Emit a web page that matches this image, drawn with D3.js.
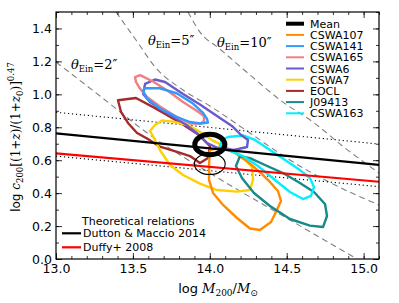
<!DOCTYPE html>
<html><head><meta charset="utf-8">
<script src="https://cdn.jsdelivr.net/npm/d3@7"></script>
<style>body{margin:0;background:#fff}svg{display:block}</style>
</head><body>
<svg id="c" width="399" height="303"></svg>
<script>
// ---------------- data ----------------
const xTicks = [13.0, 13.5, 14.0, 14.5, 15.0];
const yTicks = [0.0, 0.2, 0.4, 0.6, 0.8, 1.0, 1.2, 1.4];
const legendNames = ["Mean","CSWA107","CSWA141","CSWA165","CSWA6","CSWA7","EOCL","J09413","CSWA163"];
const legendColors = ["#000000","#ff8c00","#3399ff","#f08080","#6a5acd","#ffd000","#a52a2a","#168a8a","#00f0ff"];
// theoretical relations: [logM, value] endpoints
const duttonMaccio = [[13.0,0.763],[15.1,0.571]];
const duffy2008 = [[13.0,0.642],[15.1,0.469]];
const dottedUpper = [[13.0,0.891],[15.1,0.698]];
const dottedLower = [[13.0,0.625],[15.1,0.439]];
// Einstein-radius curves
const ein2 = [[13.0,1.196],[13.286,0.990],[13.611,0.753],[14.021,0.510],[14.521,0.237],[14.957,0.0]];
const ein5 = [[13.390,1.5],[13.520,1.330],[13.650,1.160],[13.826,1.026],[14.001,0.929],[14.261,0.765],[14.521,0.601],[14.814,0.449],[15.1,0.328]];
const ein10 = [[13.858,1.5],[13.936,1.378],[14.066,1.275],[14.216,1.154],[14.476,0.953],[14.671,0.832],[14.879,0.674],[15.1,0.522]];
const einLabels = ["2", "5", "10"];
// contours (logM, log c)
const cswa107 = [[14.001,0.662],[13.995,0.571],[13.995,0.480],[14.021,0.401],[14.086,0.328],[14.177,0.249],[14.261,0.185],[14.326,0.176],[14.398,0.225],[14.430,0.285],[14.463,0.352],[14.443,0.413],[14.391,0.468],[14.326,0.528],[14.248,0.589],[14.164,0.644],[14.079,0.680]];
const cswa141 = [[13.566,1.020],[13.579,1.037],[13.676,1.037],[13.787,1.005],[13.891,0.944],[13.956,0.887],[13.982,0.850],[13.988,0.829],[13.936,0.823],[13.871,0.832],[13.787,0.862],[13.676,0.914],[13.592,0.975]];
const cswa165 = [[13.514,1.105],[13.546,1.117],[13.631,1.078],[13.728,1.020],[13.826,0.953],[13.917,0.899],[13.962,0.868],[13.962,0.838],[13.943,0.823],[13.871,0.823],[13.780,0.865],[13.676,0.926],[13.592,0.984],[13.546,1.035],[13.520,1.075]];
const cswa6 = [[13.579,1.063],[13.644,1.090],[13.709,1.075],[13.826,1.002],[13.936,0.938],[14.066,0.856],[14.144,0.808],[14.203,0.753],[14.248,0.723],[14.242,0.680],[14.157,0.662],[14.053,0.674],[13.982,0.704],[13.923,0.759],[13.839,0.820],[13.709,0.893],[13.611,0.953],[13.566,1.002]];
const cswa7 = [[13.611,0.777],[13.644,0.814],[13.689,0.841],[13.761,0.834],[13.852,0.814],[13.917,0.783],[14.014,0.722],[14.118,0.674],[14.216,0.619],[14.274,0.559],[14.281,0.480],[14.261,0.419],[14.177,0.409],[14.047,0.419],[13.936,0.458],[13.826,0.510],[13.741,0.571],[13.676,0.662],[13.637,0.735]];
const eocl = [[13.403,0.964],[13.520,0.978],[13.650,0.913],[13.800,0.832],[13.930,0.753],[14.001,0.686],[13.988,0.613],[13.936,0.583],[13.871,0.625],[13.787,0.650],[13.676,0.682],[13.592,0.732],[13.527,0.765],[13.468,0.826],[13.423,0.893]];
const j09413 = [[14.196,0.625],[14.170,0.565],[14.209,0.492],[14.287,0.401],[14.391,0.322],[14.521,0.243],[14.651,0.203],[14.736,0.194],[14.762,0.261],[14.749,0.334],[14.677,0.407],[14.586,0.462],[14.476,0.522],[14.359,0.571],[14.261,0.613]];
const cswa163 = [[14.079,0.723],[14.118,0.741],[14.216,0.750],[14.294,0.723],[14.391,0.662],[14.489,0.601],[14.586,0.540],[14.651,0.492],[14.677,0.437],[14.658,0.383],[14.606,0.364],[14.521,0.407],[14.424,0.480],[14.313,0.565],[14.216,0.625],[14.131,0.656],[14.066,0.686]];
// mean and reference ellipses: [cx, cy, rx, ry]
const meanEllipse = [14.0, 0.695, 0.098, 0.062];
const refEllipse = [14.0, 0.577, 0.100, 0.064];

// ---------------- drawing ----------------
const svg = d3.select("#c");
const L = 56, R = 379, T = 12, B = 259;
const x = d3.scaleLinear([13.0, 15.1], [L, R]);
const y = d3.scaleLinear([0, 1.5], [B, T]);
const line = d3.line().x(d => x(d[0])).y(d => y(d[1]));
const closed = d3.line().x(d => x(d[0])).y(d => y(d[1])).curve(d3.curveLinearClosed);
const smooth = d3.line().x(d => x(d[0])).y(d => y(d[1])).curve(d3.curveMonotoneX);

svg.append("defs").append("clipPath").attr("id","clip")
  .append("rect").attr("x",L).attr("y",T).attr("width",R-L).attr("height",B-T);
const g = svg.append("g").attr("clip-path","url(#clip)");

[ein2, ein5, ein10].forEach(d => {
  g.append("path").attr("d", smooth(d)).attr("fill","none")
   .attr("stroke","#808080").attr("stroke-width",1.1).attr("stroke-dasharray","6,4");
});
[dottedUpper, dottedLower].forEach(d => {
  g.append("path").attr("d", line(d)).attr("fill","none")
   .attr("stroke","#000").attr("stroke-width",1.1).attr("stroke-dasharray","1.2,2.8");
});

const contours = [eocl, cswa7, cswa107, j09413, cswa163, cswa6, cswa165, cswa141];
const contourColors = [legendColors[6], legendColors[5], legendColors[1], legendColors[7], legendColors[8], legendColors[4], legendColors[3], legendColors[2]];
contours.forEach((d, i) => {
  g.append("path").attr("d", closed(d)).attr("fill","none")
   .attr("stroke", contourColors[i]).attr("stroke-width",2.4).attr("stroke-linejoin","round");
});

g.append("path").attr("d", line(duttonMaccio)).attr("fill","none").attr("stroke","#000").attr("stroke-width",2.2);
g.append("path").attr("d", line(duffy2008)).attr("fill","none").attr("stroke","#ff0000").attr("stroke-width",2.2);

g.append("ellipse").attr("cx", x(refEllipse[0])).attr("cy", y(refEllipse[1]))
  .attr("rx", x(refEllipse[0]+refEllipse[2]) - x(refEllipse[0]))
  .attr("ry", y(refEllipse[1]) - y(refEllipse[1]+refEllipse[3]))
  .attr("fill","none").attr("stroke","#000").attr("stroke-width",1.1);
g.append("ellipse").attr("cx", x(meanEllipse[0])).attr("cy", y(meanEllipse[1]))
  .attr("rx", x(meanEllipse[0]+meanEllipse[2]) - x(meanEllipse[0]))
  .attr("ry", y(meanEllipse[1]) - y(meanEllipse[1]+meanEllipse[3]))
  .attr("fill","none").attr("stroke","#000").attr("stroke-width",5);

// axes
const fontT = "DejaVu Sans, sans-serif";
const minorX = d3.range(13.0, 15.101, 0.1);
const minorY = d3.range(0, 1.501, 0.1);
function styleAxis(sel){ sel.select(".domain").remove(); sel.selectAll("line").attr("stroke","#000").attr("stroke-width",0.8); sel.selectAll("text").attr("font-family",fontT).attr("font-size",12.5).attr("fill","#000"); }
svg.append("g").attr("transform",`translate(0,${B})`).call(d3.axisBottom(x).tickValues(minorX).tickSize(-3).tickFormat("")).call(styleAxis);
svg.append("g").attr("transform",`translate(0,${T})`).call(d3.axisTop(x).tickValues(minorX).tickSize(-3).tickFormat("")).call(styleAxis);
svg.append("g").attr("transform",`translate(${L},0)`).call(d3.axisLeft(y).tickValues(minorY).tickSize(-3).tickFormat("")).call(styleAxis);
svg.append("g").attr("transform",`translate(${R},0)`).call(d3.axisRight(y).tickValues(minorY).tickSize(-3).tickFormat("")).call(styleAxis);
svg.append("g").attr("transform",`translate(0,${B})`).call(d3.axisBottom(x).tickValues(xTicks).tickSize(-6).tickPadding(5).tickFormat(d3.format(".1f"))).call(styleAxis);
svg.append("g").attr("transform",`translate(0,${T})`).call(d3.axisTop(x).tickValues(xTicks).tickSize(-6).tickFormat("")).call(styleAxis);
svg.append("g").attr("transform",`translate(${L},0)`).call(d3.axisLeft(y).tickValues(yTicks).tickSize(-6).tickPadding(4).tickFormat(d3.format(".1f"))).call(styleAxis);
svg.append("g").attr("transform",`translate(${R},0)`).call(d3.axisRight(y).tickValues(yTicks).tickSize(-6).tickFormat("")).call(styleAxis);
svg.append("rect").attr("x",L).attr("y",T).attr("width",R-L).attr("height",B-T).attr("fill","none").attr("stroke","#000").attr("stroke-width",1.2);

// axis labels
const serif = "DejaVu Serif, serif";
const xl = svg.append("text").attr("x", 218).attr("y", 293).attr("text-anchor","middle").attr("font-family",fontT).attr("font-size",13);
xl.append("tspan").text("log ");
xl.append("tspan").attr("font-family",serif).attr("font-style","italic").text("M");
xl.append("tspan").attr("font-family",serif).attr("font-size",9).attr("dy",3).text("200");
xl.append("tspan").attr("font-family",serif).attr("dy",-3).text("/");
xl.append("tspan").attr("font-family",serif).attr("font-style","italic").text("M");
xl.append("tspan").attr("font-family",fontT).attr("font-size",9).attr("dy",3).text("⊙");

const yl = svg.append("text").attr("transform","translate(20,137) rotate(-90)").attr("text-anchor","middle").attr("font-family",fontT).attr("font-size",12);
yl.append("tspan").text("log ");
yl.append("tspan").attr("font-family",serif).attr("font-style","italic").text("c");
yl.append("tspan").attr("font-family",serif).attr("font-size",8.5).attr("dy",3).text("200");
yl.append("tspan").attr("font-family",serif).attr("dy",-3).text("[(1+");
yl.append("tspan").attr("font-family",serif).attr("font-style","italic").text("z");
yl.append("tspan").attr("font-family",serif).text(")/(1+");
yl.append("tspan").attr("font-family",serif).attr("font-style","italic").text("z");
yl.append("tspan").attr("font-family",serif).attr("font-size",8.5).attr("dy",3).text("0");
yl.append("tspan").attr("font-family",serif).attr("dy",-3).text(")]");
yl.append("tspan").attr("font-family",serif).attr("font-size",8.5).attr("dy",-6).text("0.47");

// theta labels
const einPos = [[71,69],[148,45],[217,47]];
einLabels.forEach((v,i) => {
  const t = svg.append("text").attr("x",einPos[i][0]).attr("y",einPos[i][1]).attr("font-family",serif).attr("font-size",13);
  t.append("tspan").attr("font-style","italic").text("θ");
  t.append("tspan").attr("font-size",8.5).attr("dy",3).text("Ein");
  t.append("tspan").attr("dy",-3).text("=" + v + "″");
});

// legend upper right
legendNames.forEach((n,i) => {
  const cy = 23.7 + i*11.2;
  svg.append("line").attr("x1",286).attr("x2",304).attr("y1",cy).attr("y2",cy)
    .attr("stroke",legendColors[i]).attr("stroke-width", i===0?4:2);
  svg.append("text").attr("x",310).attr("y",cy+4).attr("font-family",fontT).attr("font-size",11).text(n);
});

// legend lower left
const theoNames = ["Dutton & Maccio 2014", "Duffy+ 2008"];
const theoColors = ["#000000", "#ff0000"];
svg.append("text").attr("x",82).attr("y",224.5).attr("font-family",fontT).attr("font-size",11).text("Theoretical relations");
theoNames.forEach((n,i) => {
  const cy = 233.3 + i*14;
  svg.append("line").attr("x1",62).attr("x2",81).attr("y1",cy).attr("y2",cy).attr("stroke",theoColors[i]).attr("stroke-width",2.2);
  svg.append("text").attr("x",83).attr("y",cy+4).attr("font-family",fontT).attr("font-size",11).text(n);
});
</script>
</body></html>
